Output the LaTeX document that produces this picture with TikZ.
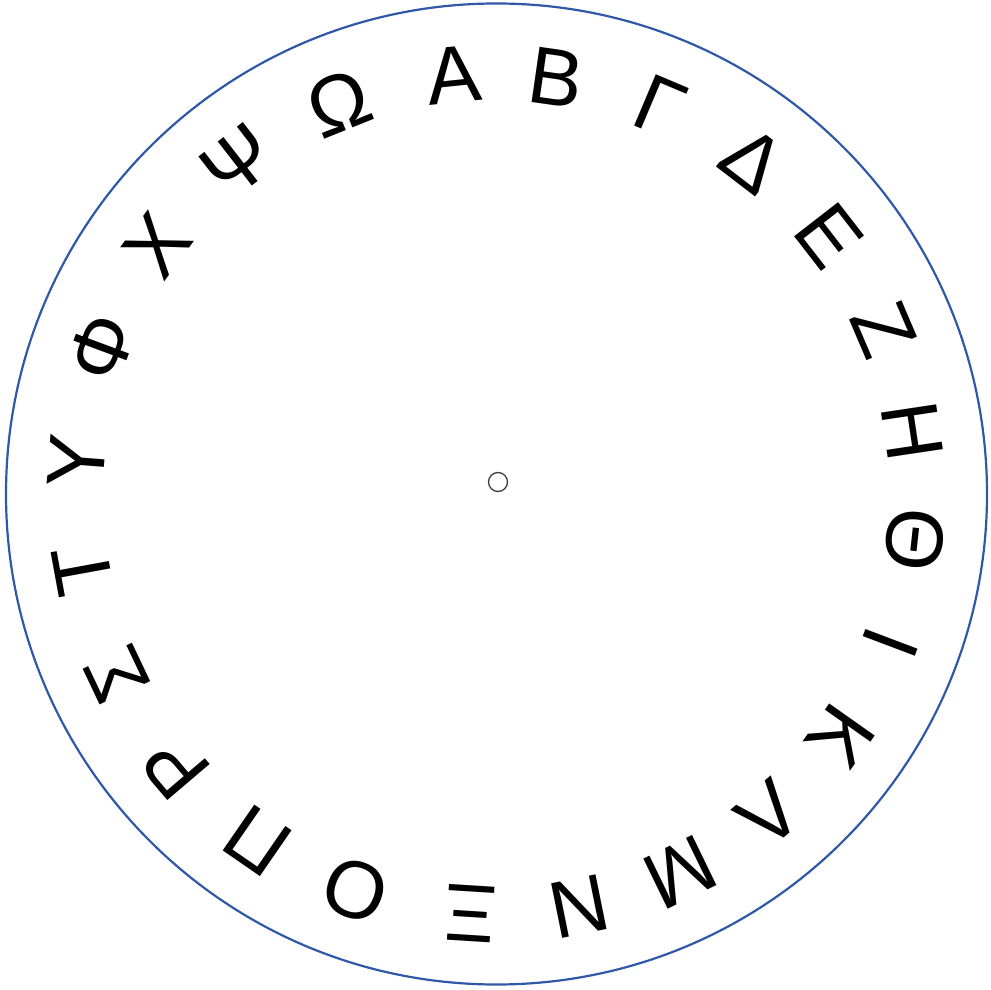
\documentclass[tikz,border=0pt]{standalone}
\usepackage{fontspec}
\setmainfont{Liberation Sans}
\usetikzlibrary{calc}
\definecolor{ringblue}{RGB}{47,88,168}
\definecolor{hubgray}{RGB}{60,60,60}
\tikzset{
  ring/.style={draw=ringblue, line width=2.2pt},
  hub/.style={circle, draw=hubgray, line width=1.3pt, minimum size=19pt, inner sep=0pt},
  glyph/.style={inner sep=0pt, font=\fontsize{81}{81}\selectfont}
}
\begin{document}
\begin{tikzpicture}[x=1pt,y=1pt]
\useasboundingbox (0,0) rectangle (991,989);
\coordinate (c) at (496.5,495);
\draw[ring] (c) circle (490.5);
\node[hub] (h) at (498,507) {};
\foreach \g/\ang [count=\i from 0] in {
  Α/95.9, Β/81.8, Γ/67.1, Δ/52.5, Ε/37.8, Ζ/23.1, Η/8.5, Θ/-6.2,
  Ι/-20.7, Κ/-35.2, Λ/-49.6, Μ/-64.1, Ν/-78.6, Ξ/-93.6, Ο/-109.6, Π/-124.6,
  Ρ/-139.6, Σ/-154.6, Τ/-169.6, Υ/175.5, Φ/159.6, Χ/143.7, Ψ/127.8, Ω/111.9}{
  \node[glyph, rotate=\ang-90] (l\i) at ($(c)+(\ang:421)$) {\g};
}
\end{tikzpicture}
\end{document}
